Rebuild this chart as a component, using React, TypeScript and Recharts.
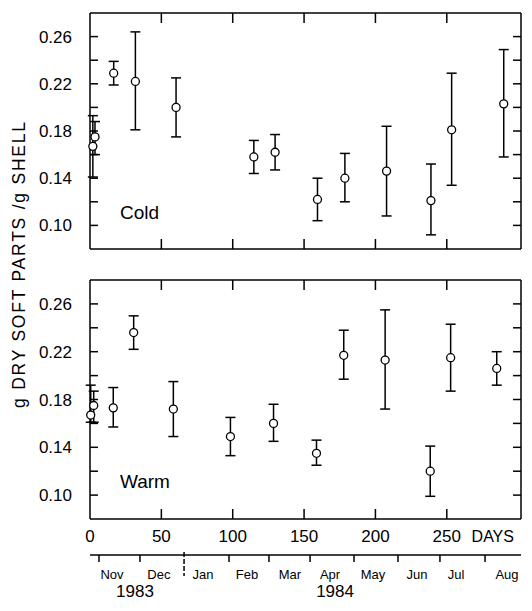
import React from 'react';
import { ScatterChart, Scatter, XAxis, YAxis, ErrorBar } from 'recharts';

// sampling days and dry-weight ratios (mean, lower and upper bar)
const coldDays = [2, 3.5, 16.6, 31.8, 60.3, 114.8, 129.7, 159.4, 178.6, 207.8, 238.9, 253.4, 289.9];
const coldMean = [0.167, 0.175, 0.229, 0.222, 0.2, 0.158, 0.162, 0.122, 0.14, 0.146, 0.121, 0.181, 0.203];
const coldLow = [0.141, 0.16, 0.219, 0.181, 0.175, 0.144, 0.147, 0.104, 0.12, 0.108, 0.092, 0.134, 0.158];
const coldHigh = [0.193, 0.188, 0.239, 0.264, 0.225, 0.172, 0.177, 0.14, 0.161, 0.184, 0.152, 0.229, 0.249];

const warmDays = [0.5, 2.6, 16.3, 30.6, 58.4, 98.4, 128.6, 158.7, 177.8, 206.8, 238.4, 252.7, 285];
const warmMean = [0.167, 0.175, 0.173, 0.236, 0.172, 0.149, 0.16, 0.135, 0.217, 0.213, 0.12, 0.215, 0.206];
const warmLow = [0.161, 0.161, 0.157, 0.222, 0.149, 0.133, 0.145, 0.125, 0.197, 0.172, 0.099, 0.187, 0.192];
const warmHigh = [0.192, 0.187, 0.19, 0.25, 0.195, 0.165, 0.176, 0.146, 0.238, 0.255, 0.141, 0.243, 0.22];

const dayTicks = [0, 50, 100, 150, 200, 250];
const innerDayTicks = [50, 100, 150, 200, 250];
const yTicks = [0.1, 0.12, 0.14, 0.16, 0.18, 0.2, 0.22, 0.24, 0.26];
const yLabels = [0.1, 0.14, 0.18, 0.22, 0.26];

const monthStarts = [6.3, 35, 65.9, 97.4, 125.4, 154.2, 185, 215.8, 245.2, 276.8];
const monthMids = [15.4, 48.3, 79.2, 110, 140.1, 168.2, 198.3, 229.1, 256.5, 292.2];
const monthNames = ['Nov', 'Dec', 'Jan', 'Feb', 'Mar', 'Apr', 'May', 'Jun', 'Jul', 'Aug'];
const yearDays = [31.5, 171.7];
const yearNames = ['1983', '1984'];

const DOMAIN_X: [number, number] = [0, 302];
const DOMAIN_Y: [number, number] = [0.08, 0.28];
const FONT = '"Liberation Sans", Arial, sans-serif';
const W = 532;

const build = (days: number[], mean: number[], lo: number[], hi: number[]) =>
  days.map((d, i) => ({ day: d, v: mean[i], err: [mean[i] - lo[i], hi[i] - mean[i]] }));

const coldData = build(coldDays, coldMean, coldLow, coldHigh);
const warmData = build(warmDays, warmMean, warmLow, warmHigh);

const line = { stroke: '#000', strokeWidth: 1.5 };
const tickFont = { fill: '#000', fontSize: 17, fontFamily: FONT };

const Dot = (p: any) => (
  <circle cx={p.cx} cy={p.cy} r={4} fill="#fff" stroke="#000" strokeWidth={1.3} />
);
// invisible series, they only tie the extra axes to the data
const Hidden = () => <g />;

// short tick pointing into the panel
const InnerTick = (p: any) => (
  <line x1={p.x} y1={p.y} x2={p.x + (p.ddx || 0)} y2={p.y + (p.ddy || 0)} stroke="#000" strokeWidth={1.5} />
);

const DayTick = (p: any) => {
  const v = p.payload.value;
  return (
    <g>
      <text x={p.x} y={p.y} dy={12} textAnchor="middle" fill="#000" fontSize={17} fontFamily={FONT}>
        {v}
      </text>
      {v === 250 && (
        <text x={p.x + 46} y={p.y} dy={12} textAnchor="middle" fill="#000" fontSize={16} fontFamily={FONT}>
          DAYS
        </text>
      )}
    </g>
  );
};

const MonthTick = (p: any) => {
  const v = p.payload.value;
  const si = monthStarts.indexOf(v);
  if (si >= 0) {
    const jan = monthNames[si] === 'Jan';
    return (
      <line
        x1={p.x}
        x2={p.x}
        y1={jan ? p.y - 3 : p.y}
        y2={jan ? p.y + 21 : p.y + 7}
        stroke="#000"
        strokeWidth={1.5}
        strokeDasharray={jan ? '5 2' : undefined}
      />
    );
  }
  return (
    <text x={p.x} y={p.y + 24} textAnchor="middle" fill="#000" fontSize={13} fontFamily={FONT}>
      {monthNames[monthMids.indexOf(v)]}
    </text>
  );
};

const fmtYear = (v: number) => yearNames[yearDays.indexOf(v)] ?? '';

const Panel = ({ data, bottom }: { data: any[]; bottom: boolean }) => (
  <ScatterChart
    width={W}
    height={bottom ? 346 : 262}
    margin={bottom ? { top: 15, right: 11, bottom: 4, left: 40 } : { top: 13, right: 11, bottom: 13, left: 40 }}
  >
    {/* frame with inward ticks */}
    <XAxis xAxisId="t" orientation="top" mirror type="number" dataKey="day" domain={DOMAIN_X}
      ticks={innerDayTicks} interval={0} height={12} tickSize={0} tickMargin={0} tickLine={false}
      tick={<InnerTick ddy={10} />} axisLine={line} />
    <XAxis xAxisId="b" orientation="bottom" mirror type="number" dataKey="day" domain={DOMAIN_X}
      ticks={innerDayTicks} interval={0} height={12} tickSize={0} tickMargin={0} tickLine={false}
      tick={<InnerTick ddy={-10} />} axisLine={line} />
    <YAxis yAxisId="li" orientation="left" mirror type="number" dataKey="v" domain={DOMAIN_Y}
      ticks={yTicks} interval={0} width={10} tickSize={0} tickMargin={0} tickLine={false}
      tick={<InnerTick ddx={8} />} axisLine={line} />
    <YAxis yAxisId="r" orientation="right" mirror type="number" dataKey="v" domain={DOMAIN_Y}
      ticks={yTicks} interval={0} width={10} tickSize={0} tickMargin={0} tickLine={false}
      tick={<InnerTick ddx={-8} />} axisLine={line} />

    {/* tick labels */}
    <XAxis xAxisId="d" type="number" dataKey="day" domain={DOMAIN_X} ticks={dayTicks} interval={0}
      height={bottom ? 36 : 1} hide={!bottom} tickSize={0} tickMargin={11} tickLine={false} axisLine={false}
      tick={<DayTick />} />
    {bottom && (
      <XAxis xAxisId="m" type="number" dataKey="day" domain={DOMAIN_X}
        ticks={[...monthStarts, ...monthMids].sort((a, b) => a - b)} interval={0} height={22}
        tickSize={0} tickMargin={0} tickLine={false} tick={<MonthTick />} axisLine={line} />
    )}
    {bottom && (
      <XAxis xAxisId="y" type="number" dataKey="day" domain={DOMAIN_X} ticks={yearDays} interval={0}
        height={30} tickSize={0} tickMargin={8} tickLine={false} axisLine={false}
        tickFormatter={fmtYear} tick={tickFont} />
    )}
    <YAxis yAxisId="l" type="number" dataKey="v" domain={DOMAIN_Y} ticks={yLabels} interval={0}
      width={50} tickSize={0} tickMargin={18} tickLine={false} axisLine={false}
      tickFormatter={(v: number) => v.toFixed(2)} tick={tickFont} />

    <Scatter data={data} xAxisId="t" yAxisId="r" dataKey="v" shape={<Hidden />} isAnimationActive={false} />
    <Scatter data={data} xAxisId="d" yAxisId="l" dataKey="v" shape={<Hidden />} isAnimationActive={false} />
    {bottom && (
      <Scatter data={data} xAxisId="m" yAxisId="l" dataKey="v" shape={<Hidden />} isAnimationActive={false} />
    )}
    {bottom && (
      <Scatter data={data} xAxisId="y" yAxisId="l" dataKey="v" shape={<Hidden />} isAnimationActive={false} />
    )}
    <Scatter data={data} xAxisId="b" yAxisId="li" dataKey="v" shape={<Dot />} isAnimationActive={false}>
      <ErrorBar dataKey="err" direction="y" width={5} stroke="#000" strokeWidth={1.5} />
    </Scatter>
  </ScatterChart>
);

export default function App() {
  return (
    <div style={{ position: 'absolute', left: 0, top: 0, width: W, height: 611, background: '#fff' }}>
      <div style={{ position: 'absolute', left: 0, top: 0 }}>
        <Panel data={coldData} bottom={false} />
      </div>
      <div style={{ position: 'absolute', left: 0, top: 265 }}>
        <Panel data={warmData} bottom={true} />
      </div>
      <svg width={W} height={611} style={{ position: 'absolute', left: 0, top: 0, pointerEvents: 'none' }}>
        <text x={120} y={219} fontSize={19} fontFamily={FONT} fill="#000">
          Cold
        </text>
        <text x={120} y={488} fontSize={19} fontFamily={FONT} fill="#000">
          Warm
        </text>
        <text
          transform="translate(24.5 265) rotate(-90)"
          textAnchor="middle"
          fontSize={17.5}
          fontFamily={FONT}
          fill="#000"
          textLength={286}
          lengthAdjust="spacing"
        >
          g DRY SOFT PARTS /g SHELL
        </text>
      </svg>
    </div>
  );
}
